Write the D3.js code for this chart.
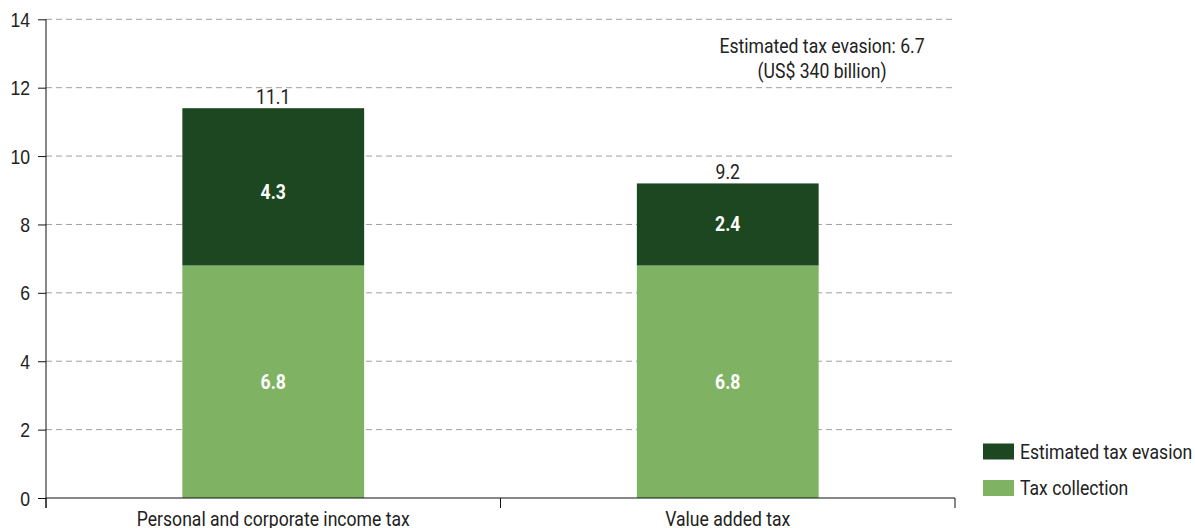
<!DOCTYPE html>
<html>
<head>
<meta charset="utf-8">
<script src="https://cdn.jsdelivr.net/npm/d3@7"></script>
<style>
  html, body { margin: 0; padding: 0; background: #fff; }
  svg { display: block; font-family: "Roboto", sans-serif; }
</style>
</head>
<body>
<svg id="chart" width="1195" height="528"></svg>
<script>
// ---- data ----
const categories = ["Personal and corporate income tax", "Value added tax"];
const taxCollection = [6.8, 6.8];
const taxEvasion = [4.6, 2.4];          // segment heights as drawn
const evasionLabels = [4.3, 2.4];       // printed values
const totalLabels = [11.1, 9.2];
const yTicks = [0, 2, 4, 6, 8, 10, 12, 14];
const seriesNames = ["Estimated tax evasion", "Tax collection"];
const annotationLines = ["Estimated tax evasion: 6.7", "(US$ 340 billion)"];

const colors = { evasion: "#1c4720", collection: "#80b263" };

const svg = d3.select("#chart");
const x = d3.scaleBand().domain(categories).range([46, 955]).paddingInner(0.6).paddingOuter(0.3);
const y = d3.scaleLinear().domain([0, 14]).range([498, 19.3]);
const fs = 20;
const SX = 0.88;

// condense text horizontally around its anchor point
function condense(sel) {
  sel.each(function () {
    const t = d3.select(this);
    const tx = +t.attr("x") || 0, ty = +t.attr("y") || 0;
    t.attr("x", 0).attr("y", 0).attr("transform", `translate(${tx},${ty}) scale(${SX},1)`);
  });
}

// gridlines
svg.append("g").selectAll("line").data(yTicks.filter(d => d > 0)).join("line")
  .attr("x1", 46).attr("x2", 955)
  .attr("y1", d => y(d)).attr("y2", d => y(d))
  .attr("stroke", "#a0a0a0").attr("stroke-width", 1).attr("stroke-dasharray", "6,4");

// bars
const rows = categories.map((c, i) => ({ c, col: taxCollection[i], ev: taxEvasion[i], evl: evasionLabels[i], tot: totalLabels[i] }));
const g = svg.append("g");
g.selectAll(".col").data(rows).join("rect")
  .attr("x", d => x(d.c)).attr("width", x.bandwidth())
  .attr("y", d => y(d.col)).attr("height", d => y(0) - y(d.col))
  .attr("fill", colors.collection);
g.selectAll(".ev").data(rows).join("rect")
  .attr("x", d => x(d.c)).attr("width", x.bandwidth())
  .attr("y", d => y(d.col + d.ev)).attr("height", d => y(d.col) - y(d.col + d.ev))
  .attr("fill", colors.evasion);

// labels inside
g.selectAll(".lc").data(rows).join("text")
  .attr("x", d => x(d.c) + x.bandwidth() / 2).attr("y", d => y(d.col / 2))
  .attr("dy", "0.35em").attr("text-anchor", "middle")
  .attr("fill", "#fff").attr("font-weight", "bold").attr("font-size", fs)
  .text(d => d.col.toFixed(1)).call(condense);
g.selectAll(".le").data(rows).join("text")
  .attr("x", d => x(d.c) + x.bandwidth() / 2).attr("y", d => y(d.col + d.evl / 2))
  .attr("dy", "0.35em").attr("text-anchor", "middle")
  .attr("fill", "#fff").attr("font-weight", "bold").attr("font-size", fs)
  .text(d => d.evl.toFixed(1)).call(condense);
g.selectAll(".lt").data(rows).join("text")
  .attr("x", d => x(d.c) + x.bandwidth() / 2).attr("y", d => y(d.col + d.ev) - 4)
  .attr("text-anchor", "middle")
  .attr("fill", "#222").attr("font-size", fs)
  .text(d => d.tot.toFixed(1)).call(condense);

// y axis
const yAxis = svg.append("g").attr("transform", "translate(46,0)")
  .call(d3.axisLeft(y).tickValues(yTicks).tickSize(8).tickPadding(8).tickFormat(d3.format("d")));
yAxis.select(".domain").remove();
yAxis.selectAll("line").attr("stroke", "#111");
yAxis.selectAll("text").attr("font-size", fs).attr("fill", "#222").attr("font-family", null)
  .attr("x", -16).attr("dy", "0.35em").call(condense);
svg.append("line").attr("x1", 46).attr("x2", 46).attr("y1", y(14)).attr("y2", 508).attr("stroke", "#111");

// x axis
svg.append("line").attr("x1", 46).attr("x2", 955).attr("y1", y(0)).attr("y2", y(0)).attr("stroke", "#111").attr("stroke-width", 1.2);
const bounds = [46, x(categories[0]) + x.bandwidth() / 2 + x.step() / 2, 955];
svg.append("g").selectAll("line").data(bounds).join("line")
  .attr("x1", d => d).attr("x2", d => d).attr("y1", y(0)).attr("y2", 508).attr("stroke", "#111");
svg.append("g").selectAll("text").data(categories).join("text")
  .attr("x", d => x(d) + x.bandwidth() / 2).attr("y", 526)
  .attr("text-anchor", "middle").attr("font-size", fs).attr("fill", "#222")
  .text(d => d).call(condense);

// annotation
svg.append("g").selectAll("text").data(annotationLines).join("text")
  .attr("x", 822).attr("y", (d, i) => 53 + i * 25)
  .attr("text-anchor", "middle").attr("font-size", fs).attr("fill", "#222")
  .text(d => d).call(condense);

// legend
const legColors = [colors.evasion, colors.collection];
const leg = svg.append("g").selectAll("g").data(seriesNames).join("g")
  .attr("transform", (d, i) => `translate(983,${443.5 + i * 36.5})`);
leg.append("rect").attr("width", 31).attr("height", 16).attr("fill", (d, i) => legColors[i]);
leg.append("text").attr("x", 37).attr("y", 8).attr("dy", "0.35em")
  .attr("font-size", fs).attr("fill", "#222").text(d => d).call(condense);
</script>
</body>
</html>
